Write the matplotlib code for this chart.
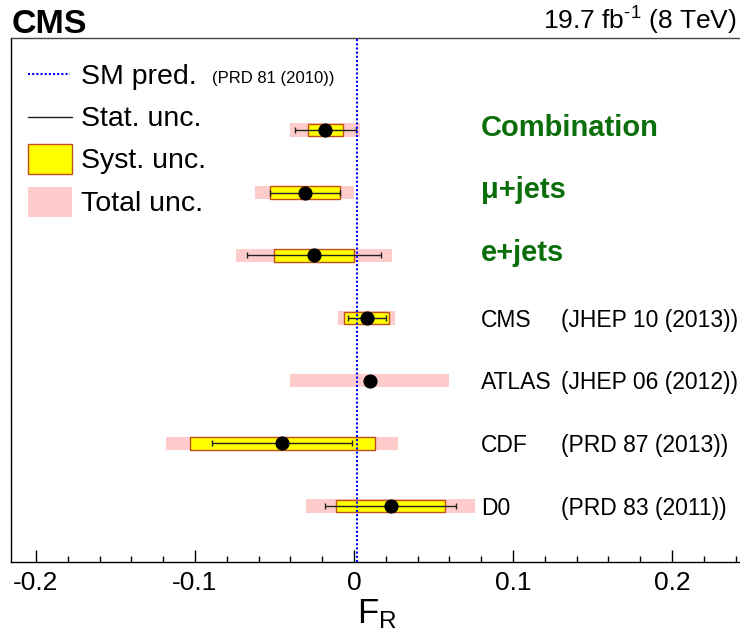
import numpy as np
import matplotlib
matplotlib.use("Agg")
from matplotlib import pyplot as plt
from matplotlib.ticker import MultipleLocator

plt.rcParams['font.family'] = ['Liberation Sans', 'DejaVu Sans']
plt.rcParams['mathtext.fontset'] = 'custom'
plt.rcParams['mathtext.rm'] = 'Liberation Sans'
plt.rcParams['mathtext.it'] = 'Liberation Sans:italic'

# Measurements of F_R, top to bottom
labels = ["Combination", "μ+jets", "e+jets", "CMS", "ATLAS", "CDF", "D0"]
refs = ["", "", "", "(JHEP 10 (2013))", "(JHEP 06 (2012))", "(PRD 87 (2013))", "(PRD 83 (2011))"]
fr = [-0.018, -0.031, -0.025, 0.008, 0.010, -0.045, 0.023]
stat = [0.019, 0.022, 0.042, 0.012, np.nan, 0.044, 0.041]
syst = [0.011, 0.022, 0.025, 0.014, np.nan, 0.058, 0.034]
total = [0.022, 0.031, 0.049, 0.018, 0.050, 0.073, 0.053]
sm_pred = 0.0017

green = '#0a6e0a'
pink = '#ffcccc'
yellow = '#ffff00'
box_edge = '#c0501a'

fr = np.array(fr)
stat = np.array(stat)
syst = np.array(syst)
total = np.array(total)
ypos = np.arange(len(labels), 0, -1)  # 7 .. 1

W, H = 740, 637
fig = plt.figure(figsize=(W / 100, H / 100), dpi=100)
ax_l, ax_r, ax_t, ax_b = 11, 740, 38, 561.7
ax = fig.add_axes([ax_l / W, (H - ax_b) / H, (ax_r - ax_l) / W, (ax_b - ax_t) / H])


def px2ax(x, y):
    # pixel position in the figure -> axes fraction
    return (x - ax_l) / (ax_r - ax_l), (ax_b - y) / (ax_b - ax_t)


# total uncertainty (pink), syst (yellow box), stat (error bar), central value
ax.barh(ypos, 2 * total, left=fr - total, height=0.21, color=pink, zorder=1)
has_syst = ~np.isnan(syst)
ax.barh(ypos[has_syst], 2 * syst[has_syst], left=fr[has_syst] - syst[has_syst], height=0.2,
        color=yellow, edgecolor=box_edge, linewidth=1.0, zorder=2)
ax.errorbar(fr[has_syst], ypos[has_syst], xerr=stat[has_syst], fmt='none', ecolor='#222222',
            elinewidth=1.0, capsize=2.5, capthick=1.0, zorder=3)
ax.axvline(sm_pred, color='#0000ff', linestyle=(0, (1, 1.0)), linewidth=1.5, zorder=4)
ax.plot(fr, ypos, 'o', color='black', markersize=9.2, zorder=5)

ax.set_xlim(-0.2157, 0.2428)
ax.set_ylim(0.111, 8.468)

ax.xaxis.set_minor_locator(MultipleLocator(0.02))
ax.set_xticks([-0.2, -0.1, 0, 0.1, 0.2])
ax.set_xticklabels(['-0.2', '-0.1', '0', '0.1', '0.2'])
ax.tick_params(axis='x', which='major', direction='in', length=8.5, width=1.0, labelsize=19, pad=7)
ax.tick_params(axis='x', which='minor', direction='in', length=4.5, width=1.0)
ax.yaxis.set_major_locator(MultipleLocator(0.25))
ax.tick_params(axis='y', which='major', direction='in', length=1.0, width=0.5,
               color='#999999', labelleft=False)
ax.spines['right'].set_visible(False)
for s in ['left', 'top', 'bottom']:
    ax.spines[s].set_linewidth(1.0)
ax.spines['top'].set_color('#444444')

# labels on the right
for y, lab, ref, i in zip(ypos, labels, refs, range(len(labels))):
    if i < 3:
        ax.text(0.08, y - 0.09, lab, color=green, fontsize=21, fontweight='bold', va='baseline', ha='left')
    else:
        ax.text(0.08, y - 0.14, lab, color='black', fontsize=16.5, va='baseline', ha='left')
        ax.text(0.13, y - 0.14, ref, color='black', fontsize=16.5, va='baseline', ha='left')

# legend drawn by hand
x0, y0 = px2ax(28, 74)
x1, _ = px2ax(70, 74)
ax.plot([x0, x1], [y0, y0], transform=ax.transAxes, color='#0000ff',
        linestyle=(0, (1, 1.0)), linewidth=1.5)
x0, y0 = px2ax(28, 117)
x1, _ = px2ax(72, 117)
ax.plot([x0, x1], [y0, y0], transform=ax.transAxes, color='#222222', linewidth=1.0)
xa, ya = px2ax(28, 174)
xb, yb = px2ax(72, 144)
ax.add_patch(plt.Rectangle((xa, ya), xb - xa, yb - ya, transform=ax.transAxes,
                           facecolor=yellow, edgecolor=box_edge, linewidth=1.0))
xa, ya = px2ax(28, 217)
xb, yb = px2ax(72, 187)
ax.add_patch(plt.Rectangle((xa, ya), xb - xa, yb - ya, transform=ax.transAxes,
                           facecolor=pink, edgecolor='none'))

leg_text = ["SM pred.", "Stat. unc.", "Syst. unc.", "Total unc."]
leg_base = [83.5, 126, 168.5, 211]
for t, b in zip(leg_text, leg_base):
    tx, ty = px2ax(81, b)
    ax.text(tx, ty, t, transform=ax.transAxes, fontsize=20.5, va='baseline', ha='left')
tx, ty = px2ax(212, 83)
ax.text(tx, ty, "(PRD 81 (2010))", transform=ax.transAxes, fontsize=12, va='baseline', ha='left')

# header
fig.text(12 / W, (H - 33) / H, "CMS", fontsize=24.5, fontweight='bold', va='baseline', ha='left')
fig.text(737 / W, (H - 30) / H, r"19.7 fb$^{\mathrm{\text{-}1}}$ (8 TeV)", fontsize=19,
         va='baseline', ha='right')

# axis title
fig.text(377 / W, (H - 623) / H, r"F$_{\mathrm{R}}$", fontsize=25, va='baseline', ha='center')

fig.savefig("out.png", dpi=100)
